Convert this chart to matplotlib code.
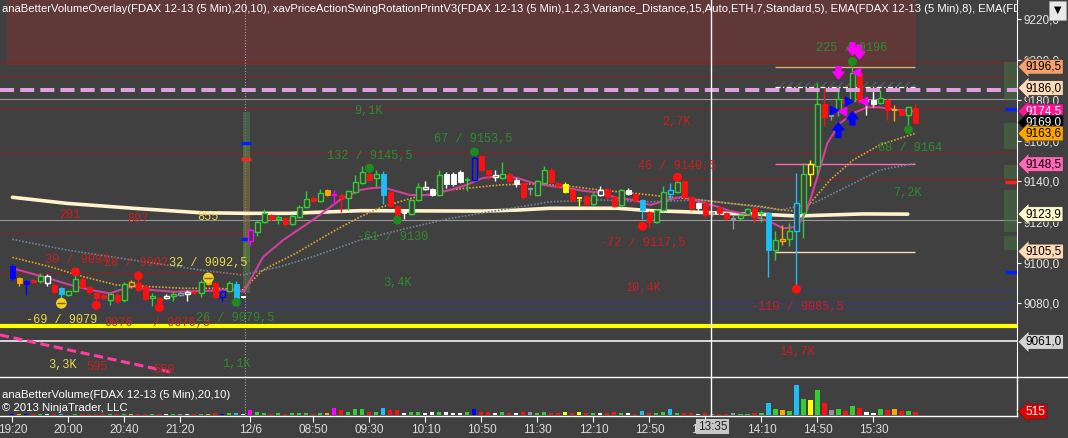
import matplotlib
matplotlib.use('Agg')
import matplotlib.pyplot as plt
import matplotlib.transforms as mtransforms
from matplotlib.patches import Rectangle
from matplotlib.lines import Line2D

# FDAX 12-13, 5 min bars (bar index 0 = 19:20 on 12/5)
opens = [9098.5, 9092.5, 9091, 9091.5, 9091, 9090, 9089, 9087.5, 9084, 9086,
         9092, 9088, 9085, 9084, 9081.5, 9084, 9081.5, 9088.5, 9090, 9088.5,
         9082.5, 9082.5, 9082.5, 9083.5, 9084, 9084.5, 9085.5, 9085, 9090.5, 9090,
         9083, 9086, 9089.5, 9083, 9110.5, 9115, 9120, 9123.5, 9121.5, 9122,
         9119, 9122.5, 9127.5, 9132, 9130.5, 9136, 9133.5, 9133.5, 9132, 9135,
         9139, 9143.5, 9141.5, 9143.5, 9135, 9128, 9124.5, 9124, 9131, 9136.5,
         9136.5, 9133.5, 9143.5, 9143.5, 9144.5, 9140.5, 9140.5, 9152.5, 9145.5, 9142,
         9141.5, 9143.5, 9140.5, 9139, 9136.5, 9133.5, 9139, 9145.5, 9139, 9138.5,
         9136, 9132, 9133, 9129, 9133.5, 9136.5, 9132.5, 9128.5, 9136, 9134,
         9131, 9125, 9120, 9126, 9134, 9135, 9140, 9132.5, 9129.5, 9129.5,
         9124.5, 9127.5, 9124.5, 9121.5, 9122, 9124, 9127, 9124.5, 9124.5, 9106,
         9110.5, 9111.5, 9115.5, 9124.5, 9143.5, 9147.5, 9178, 9172, 9174.5, 9180.5,
         9179.5, 9193.5, 9179.5, 9180, 9178.5, 9180, 9175, 9175, 9172.5, 9176]
highs = [9099.5, 9093, 9091.5, 9092, 9095, 9094.5, 9090, 9088, 9086.5, 9094,
         9093, 9088.5, 9085.5, 9084.5, 9085, 9085, 9090.5, 9091.5, 9093, 9089,
         9085, 9083, 9084.5, 9085.5, 9086, 9086.5, 9086, 9091.5, 9091.5, 9090.5,
         9086.5, 9091, 9091, 9083.5, 9117, 9121, 9126.5, 9124, 9123.5, 9122.5,
         9124, 9128.5, 9135.5, 9133, 9136.5, 9136.5, 9136, 9134, 9136, 9143,
         9147.5, 9145.5, 9145.5, 9145, 9135.5, 9128.5, 9125.5, 9131.5, 9139, 9140,
         9137, 9145.5, 9144.5, 9144.5, 9145.5, 9142, 9153.5, 9153, 9145.5, 9145.5,
         9149.5, 9144.5, 9141.5, 9139.5, 9137.5, 9140.5, 9147.5, 9146.5, 9139.5, 9139.5,
         9136.5, 9132.5, 9133.5, 9135, 9138, 9137, 9133, 9136.5, 9137, 9134.5,
         9131.5, 9125.5, 9126.5, 9138, 9139, 9140.5, 9140.5, 9133, 9130, 9130,
         9125.5, 9128, 9125, 9123.5, 9124.5, 9127, 9127.5, 9126, 9125, 9115.5,
         9118.5, 9119.5, 9144, 9149, 9150.5, 9188.5, 9186, 9177, 9186.5, 9181,
         9196.5, 9195, 9181.5, 9185, 9185, 9181, 9177.5, 9175.5, 9177, 9178]
lows = [9091.5, 9088.5, 9084, 9090, 9090, 9088.5, 9085, 9082.5, 9083.5, 9085.5,
        9087.5, 9084.5, 9081.5, 9082, 9079, 9080, 9080.5, 9087.5, 9086, 9081.5,
        9078.5, 9078.5, 9082, 9081, 9083.5, 9081, 9084.5, 9083, 9089, 9082.5,
        9081, 9085.5, 9081, 9082.5, 9108, 9113, 9119.5, 9120.5, 9119, 9118,
        9118.5, 9122, 9127, 9130, 9130, 9133, 9129, 9125, 9126, 9134.5,
        9138.5, 9140, 9137.5, 9129, 9127.5, 9122.5, 9121.5, 9123.5, 9130.5, 9136,
        9133, 9133, 9137, 9138, 9139, 9135.5, 9140, 9145, 9140.5, 9140,
        9141, 9139.5, 9137.5, 9131.5, 9133.5, 9133, 9138.5, 9139, 9137, 9134.5,
        9130.5, 9128, 9128.5, 9128.5, 9133, 9132, 9127.5, 9127.5, 9133.5, 9130,
        9121.5, 9117.5, 9119.5, 9125.5, 9131, 9134.5, 9132, 9126, 9126, 9122.5,
        9123, 9123.5, 9121, 9116.5, 9121, 9123.5, 9119.5, 9120, 9093, 9101.5,
        9108.5, 9108, 9085.5, 9112, 9138, 9143, 9167.5, 9170.5, 9172, 9178,
        9179, 9178.5, 9172.5, 9176.5, 9178, 9170.5, 9170, 9172, 9168, 9169]
closes = [9092.5, 9090, 9089.5, 9090.5, 9093.5, 9093.5, 9085.5, 9084.5, 9086, 9092,
          9088, 9085.5, 9082.5, 9082.5, 9084.5, 9081, 9089.5, 9090.5, 9086.5, 9082,
          9083.5, 9080.5, 9083.5, 9084.5, 9085, 9085.5, 9085, 9090.5, 9089.5, 9083,
          9086, 9090, 9082.5, 9083, 9116, 9120, 9124.5, 9121.5, 9122.5, 9119,
          9123, 9127.5, 9131.5, 9130.5, 9134.5, 9133.5, 9133, 9132, 9135.5, 9139.5,
          9144.5, 9140.5, 9143.5, 9133.5, 9128, 9123.5, 9124, 9131, 9137.5, 9137.5,
          9133.5, 9143, 9138.5, 9138.5, 9139.5, 9141, 9151.5, 9145.5, 9143.5, 9143,
          9143.5, 9140, 9138.5, 9132.5, 9136.5, 9140, 9145.5, 9139.5, 9138, 9135,
          9131, 9132, 9129, 9133.5, 9136, 9132.5, 9128, 9136, 9134, 9131,
          9126, 9120, 9126, 9135, 9136, 9139.5, 9132.5, 9127, 9127, 9123.5,
          9124.5, 9124.5, 9122, 9121.5, 9123.5, 9126.5, 9122.5, 9124.5, 9106, 9111,
          9111.5, 9115.5, 9129.5, 9143.5, 9148.5, 9178, 9171.5, 9172, 9180.5, 9178.5,
          9193.5, 9179.5, 9179.5, 9178, 9181, 9175, 9175, 9172.5, 9176.5, 9169]
# anaBetterVolume colour class per bar
bar_cols = ("bobrgwrcgg" "rrrrgrgorr" "grwgkwrgor" "bgcwmggrgr" "gggrgomrgg"
            "grgcrrwggw" "wgwwwgbrrw" "grwrkggrry" "ryrgwrrgwr" "crggcgrrwr"
            "krrkggrgcg" "ogcgygrkgr" "grwwgrorgr")
volumes = [160, 120, 90, 80, 110, 90, 120, 150, 70, 130,
           140, 100, 150, 80, 110, 90, 150, 100, 130, 160,
           90, 140, 80, 100, 90, 110, 80, 180, 160, 230,
           200, 260, 330, 150, 750, 380, 300, 200, 230, 200,
           250, 280, 300, 200, 260, 300, 1050, 680, 450, 950,
           900, 520, 520, 980, 680, 680, 300, 520, 520, 300,
           380, 520, 380, 300, 230, 380, 900, 380, 450, 230,
           450, 230, 230, 520, 380, 230, 450, 300, 300, 450,
           300, 450, 300, 300, 230, 230, 450, 300, 230, 150,
           600, 230, 300, 380, 830, 300, 230, 300, 150, 300,
           150, 80, 80, 300, 150, 150, 230, 300, 1750, 900,
           750, 600, 4500, 2450, 2250, 3750, 1750, 750, 900, 650,
           1350, 1100, 450, 350, 900, 750, 900, 650, 650, 515]

# EMA(8) magenta, EMA(20) orange dotted, EMA(50) slate dotted, long EMA cream
ema8_x = [0, 4.4, 7.8, 11.1, 13.9, 17.2, 19.7, 22.9, 26.8, 31.5, 33.1, 35.8, 38.7, 42.9, 46.8,
          49.7, 51.1, 52.9, 56.8, 59.7, 62.5, 64.9, 67.2, 69.7, 72.1, 74.4, 76.8, 79.2, 81.5,
          83.9, 86.4, 88.7, 91.1, 93.5, 95.8, 98.2, 100.7, 102.5, 105.4, 108.2, 110.1, 112.1,
          113.5, 115.0, 116.4, 118.2, 120.1, 122.1, 123.9, 126.4, 128.9]
ema8_y = [9097.2, 9093.1, 9089.5, 9086.6, 9084.9, 9088.5, 9086.6, 9085.7, 9086.0, 9086.6, 9085.7,
          9102.8, 9111.2, 9121.0, 9130.9, 9135.8, 9136.6, 9137.1, 9133.3, 9133.3, 9135.8, 9138.3,
          9141.7, 9142.7, 9141.7, 9139.2, 9137.8, 9136.8, 9135.4, 9134.5, 9131.9, 9130.9, 9128.4,
          9130.9, 9132.5, 9130.0, 9127.6, 9125.4, 9123.5, 9120.2, 9116.9, 9117.7, 9126.0, 9142.4,
          9158.8, 9168.6, 9173.6, 9176.5, 9176.5, 9175.2, 9174.5]
ema20_x = [0, 5.4, 10.1, 14.9, 19.7, 24.4, 29.2, 32.9, 35.8, 40.6, 45.4, 49.7, 52.9, 57.8, 62.5,
           69.7, 74.4, 79.2, 83.9, 88.7, 93.5, 98.2, 102.5, 107.2, 109.7, 112.9, 116.8, 120.1,
           123.9, 128.9]
ema20_y = [9102.6, 9098.0, 9093.1, 9089.0, 9088.2, 9087.4, 9087.4, 9086.6, 9096.4, 9104.8, 9114.6,
           9122.6, 9127.6, 9132.5, 9135.8, 9138.3, 9138.8, 9137.8, 9135.8, 9134.2, 9132.5, 9130.9,
           9129.2, 9127.6, 9126.0, 9125.1, 9140.7, 9150.6, 9158.0, 9163.6]
ema50_x = [0, 7.8, 17.2, 26.8, 32.9, 34.0, 38.2, 42.9, 49.7, 55.4, 62.5, 69.7, 76.8, 83.9, 91.1,
           98.2, 102.5, 109.7, 114.4, 119.2, 123.9, 128.9]
ema50_y = [9111.5, 9106.2, 9101.3, 9096.4, 9093.9, 9094.8, 9098.0, 9102.9, 9111.2, 9116.1, 9121.8,
           9125.9, 9130.0, 9130.9, 9130.0, 9130.9, 9129.2, 9126.0, 9129.2, 9137.4, 9145.6, 9148.9]
emaL_x = [0, 7.8, 17.2, 26.8, 33.5, 39.7, 49.7, 67.2, 72.1, 76.8, 86.4, 91.1, 95.8, 102.5, 107.2,
          112.1, 116.8, 121.5, 127.9]
emaL_y = [9132.2, 9129.2, 9126.8, 9124.6, 9124.3, 9124.3, 9125.6, 9125.4, 9125.9, 9126.8, 9126.8,
          9125.6, 9125.1, 9124.2, 9123.8, 9123.0, 9123.5, 9124.0, 9123.9]

# swing points and their print labels
swing_bar = [9, 12, 18, 21, 32, 51, 55, 66, 90, 95, 112, 120, 128]
swing_px = [9095.5, 9079, 9093.5, 9078, 9080.5, 9146.5, 9121, 9154.5, 9118, 9142, 9087, 9199, 9165.5]
swing_col = ['r', 'r', 'r', 'r', 'g', 'g', 'g', 'g', 'r', 'r', 'r', 'g', 'g']
marker_bar = [7, 28]
marker_px = [9080, 9092.5]
labels = [
    ("281", 8.2, 9123.5, 'r'), ("897", 17.9, 9121.5, 'r'), ("855", 27.9, 9122.5, 'y'),
    ("30 / 9094", 9.2, 9101.3, 'r'), ("28 / 9092", 17.7, 9099.8, 'r'),
    ("32 / 9092,5", 28.0, 9100.0, 'y'),
    ("9076", 15.1, 9070.5, 'r'), ("/ 9076,5", 24.2, 9070.3, 'r'),
    ("-69 / 9079", 7.1, 9071.8, 'y'), ("26 / 9079,5", 31.8, 9072.6, 'g'),
    ("3,3K", 7.1, 9049.6, 'y'), ("595", 12.1, 9048.6, 'r'), ("560", 21.6, 9047.2, 'r'),
    ("1,1K", 32.0, 9050.1, 'g'),
    ("9,1K", 50.8, 9174.5, 'g'), ("132 / 9145,5", 51.1, 9152.5, 'g'),
    ("67 / 9153,5", 65.8, 9160.8, 'g'), ("-61 / 9130", 54.3, 9112.8, 'g'), ("3,4K", 55.0, 9090.0, 'g'),
    ("2,7K", 94.9, 9169.4, 'r'), ("46 / 9140,5", 94.9, 9147.6, 'r'),
    ("-72 / 9117,5", 90.0, 9109.8, 'r'), ("10,4K", 90.0, 9087.5, 'r'),
    ("-110 / 9085,5", 112.1, 9078.3, 'r'), ("14,7K", 112.1, 9056.0, 'r'),
    ("225 / 9196", 119.9, 9205.6, 'g'), ("68 / 9164", 128.2, 9156.5, 'g'), ("7,2K", 127.9, 9134.2, 'g'),
]

# horizontal levels
red_levels = [9199, 9191.5, 9176, 9154]
red_levels_left = [9114.8, 9095.1]
navy_levels = [9080.3, 9077.6]
gray_levels = [9180.6, 9121.0]
rot_levels = [9196.5, 9148.5, 9105.5]
rot_cols = ['#f4a460', '#ff69b4', '#ffdab9']
flags = [(9196.5, '#f4a070', 'black'), (9186.0, '#fdd9b5', 'black'), (9174.5, '#ff1493', 'white'),
         (9169.0, '#000000', 'white'), (9163.6, '#ffa500', 'black'), (9148.5, '#ff69b4', 'black'),
         (9123.9, '#fffacd', 'black'), (9105.5, '#ffdab9', 'black'), (9061.0, '#d3d3d3', 'black')]

tick_idx = [0, 8, 16, 24, 34, 43, 51, 59, 67, 75, 83, 91, 99, 107, 115, 123]
tick_lbl = ['19:20', '20:00', '20:40', '21:20', '12/6', '08:50', '09:30', '10:10', '10:50',
            '11:30', '12:10', '12:50', '13:30', '14:10', '14:50', '15:30']

COL = {'r': '#ff1010', 'g': '#32cd32', 'w': '#ffffff', 'c': '#1ebef5', 'y': '#ffff00',
       'm': '#ff00ff', 'b': '#0000ff', 'o': '#ffa500', 'k': '#8a96a3'}
TXT = {'r': '#c82020', 'g': '#2e8b2e', 'y': '#e8d850'}
BG = '#404040'
W, H = 1068, 438

fig = plt.figure(figsize=(W / 100, H / 100), dpi=100, facecolor=BG)
ax = fig.add_axes([0, 61 / H, 1017 / W, 377 / H], facecolor=BG)
vax = fig.add_axes([0, 22 / H, 1017 / W, 39 / H], facecolor=BG)
ax.set_xlim(-1.77, 143.5)
vax.set_xlim(-1.77, 143.5)
ax.set_ylim(9043.7, 9229.35)
vax.set_ylim(-150, 5700)

# supply zone
ax.add_patch(Rectangle((-0.8, 9197.4), 129.9, 40, fc='#613838', ec='none', zorder=0))

for lv in red_levels:
    ax.axhline(lv, color='#7a2828', lw=0.9, zorder=1)
ax.hlines([9141.2], 89, 143.5, color='#7a2828', lw=0.9, zorder=1)
ax.hlines(red_levels_left, -1.77, 33.5, color='#7a2828', lw=0.9, zorder=1)
ax.hlines([9086.6], 112, 143.5, color='#3a3a78', lw=0.9, zorder=1)
for lv in navy_levels:
    ax.axhline(lv, color='#3a3a78', lw=0.9, zorder=1)
for lv in gray_levels:
    ax.axhline(lv, color='#9a9a9a', lw=0.8, zorder=1)
ax.axhline(9068.9, color='#ffff00', lw=3, zorder=2)
ax.axhline(9061.2, color='#ffffff', lw=1.1, zorder=2)
ax.axhline(9185.0, color='#dda0dd', lw=2.9, dashes=(3.5, 1.5), zorder=6)
ax.plot([-1.77, 23.2], [9064.4, 9045.7], color='#ff3ca0', lw=2.2, dashes=(3, 1.5), zorder=2)

# swing rotation levels on the last leg
for lv, c in zip(rot_levels, rot_cols):
    ax.hlines(lv, 108.9, 128.9, color=c, lw=1.0, zorder=3)
plt.rcParams['hatch.color'] = '#5a5a5a'
ax.add_patch(Rectangle((108.9, 9186.4), 20, 2.6, fc='none', ec='#5a5a5a', hatch='////', lw=0, zorder=2))
ax.hlines(9186.4, 108.9, 128.9, color='white', lw=0.9, linestyles=(0, (4, 2, 1, 2)), zorder=3)

# volume overlay columns
for lo, hi, c in [(9085, 9100, '#4f6f45'), (9100, 9112, '#5f8a3f'), (9112, 9148, '#7a7040'),
                  (9148, 9160, '#5f8040'), (9160, 9174, '#4f6f4f')]:
    ax.add_patch(Rectangle((32.9, lo), 1.1, hi - lo, fc=c, ec='none', alpha=0.65, zorder=2))
ax.hlines([9159, 9111.6], 32.7, 34.1, color='#0020ff', lw=2.5, zorder=3)
ax.hlines([9151], 32.7, 34.1, color='#ff2020', lw=2.5, zorder=3)
for lo, hi in [(9180, 9199), (9156, 9169), (9141, 9148), (9115, 9136), (9106, 9113)]:
    ax.add_patch(Rectangle((141.7, lo), 1.9, hi - lo, fc='#4a7a40', ec='none', alpha=0.45, zorder=2))
ax.hlines([9175.5, 9095.5], 141.8, 143.5, color='#0020ff', lw=2.5, zorder=3)
ax.hlines([9139.5], 141.8, 143.5, color='#ff2020', lw=2.5, zorder=3)

# session break and cursor
for a in (ax, vax):
    a.axvline(33.2, color='#a0a0a0', lw=0.8, ls=(0, (1, 1.5)), zorder=1)
    a.axvline(99.8, color='white', lw=1.0, zorder=7)

# moving averages
ax.plot(emaL_x, emaL_y, color='#fff2cc', lw=2.6, zorder=3, solid_capstyle='round')
ax.plot(ema50_x, ema50_y, color='#6f829a', lw=1.2, ls=(0, (1, 1)), zorder=3)
ax.plot(ema20_x, ema20_y, color='#e0a030', lw=1.2, ls=(0, (1, 1)), zorder=3)
ax.plot(ema8_x, ema8_y, color='#d0409a', lw=1.5, zorder=3)

# candles
bw = 0.7
for i in range(len(opens)):
    o, h, l, c = opens[i], highs[i], lows[i], closes[i]
    col = COL[bar_cols[i]]
    ax.vlines(i, l, h, color=col, lw=1.0, zorder=4)
    if abs(c - o) < 0.6:
        ax.hlines((o + c) / 2, i - bw / 2, i + bw / 2, color=col, lw=1.4, zorder=5)
    elif c > o:
        ax.add_patch(Rectangle((i - bw / 2, o), bw, c - o, fc=BG, ec=col, lw=1.0, zorder=5))
    else:
        ax.add_patch(Rectangle((i - bw / 2, c), bw, o - c, fc=col, ec=col, lw=0.6, zorder=5))

# swing dots, markers and arrows
ax.scatter(swing_bar, swing_px, s=42, c=[COL[s] if s == 'r' else '#1f8a1f' for s in swing_col],
           edgecolors='none', zorder=6)
ax.scatter(marker_bar, marker_px, s=60, c='#f0d020', edgecolors='none', zorder=6)
ax.scatter(marker_bar, marker_px, s=30, marker='_', c='#806000', linewidths=1, zorder=7)
for x, tip, tail, c in [(118, 9190.5, 9196.5, '#ff00ff'), (120, 9202.3, 9208.3, '#ff00ff'),
                        (121, 9200.4, 9207.2, '#ff00ff'), (118, 9168.8, 9161.7, '#0000ff'),
                        (120, 9174.3, 9167.8, '#0000ff')]:
    ax.annotate('', xy=(x, tip), xytext=(x, tail),
                arrowprops=dict(facecolor=c, edgecolor=c, width=3.5, headwidth=8, headlength=5,
                                shrink=0),
                zorder=7)
ax.scatter([117.4, 119.5], [9175.2, 9179.8], marker='>', s=35, c='#0000ff', zorder=7)
ax.scatter([118.5, 120.5, 121.5], [9174.7, 9194.0, 9179.8], marker='<', s=35, c='#ff00ff', zorder=7)

for t, x, y, c in labels:
    ax.text(x, y, t, color=TXT[c], fontsize=8.6, family='Liberation Mono', ha='center', va='center',
            zorder=8)

# volume bars
vax.bar(range(len(volumes)), volumes, width=0.58, color=[COL[b] for b in bar_cols], zorder=3)

# axes styling
yt = [9220, 9200, 9180, 9160, 9140, 9120, 9100, 9080]
ax.set_yticks(yt)
ax.set_yticklabels([f"{v:.1f}".replace('.', ',') for v in yt], family='Liberation Sans')
ax.tick_params(axis='y', left=False, labelleft=False, right=True, labelright=True, colors='white',
               labelcolor='#e6e6e6', length=3, width=0.8, pad=2, labelsize=8.5)
ax.tick_params(axis='x', bottom=False, labelbottom=False)
for s in ax.spines.values():
    s.set_visible(False)
ax.spines['right'].set_visible(True)
ax.spines['right'].set_color('white')

vax.set_yticks([])
vax.set_xticks(tick_idx)
vax.set_xticklabels(tick_lbl, family='Liberation Sans')
vax.tick_params(axis='x', colors='white', labelcolor='#dcdcdc', length=4, width=0.8, pad=1.5,
                labelsize=8.5)
vax.spines['left'].set_visible(False)
for k in ('top', 'bottom', 'right'):
    vax.spines[k].set_color('white')
    vax.spines[k].set_linewidth(1.0)
fig.add_artist(Line2D([1017 / W, 1], [61 / H, 61 / H], color='white', lw=1.0))

vtr = mtransforms.blended_transform_factory(vax.transData, vax.transAxes)
vax.text(100, -0.27, '13:35', transform=vtr, ha='center', va='center', fontsize=8.5,
         family='Liberation Sans', color='#202020', clip_on=False,
         bbox=dict(boxstyle='square,pad=0.15', fc='#c8c8c8', ec='none'), zorder=10)

# header and panel captions
header = ("anaBetterVolumeOverlay(FDAX 12-13 (5 Min),20,10), xavPriceActionSwingRotationPrintV3"
          "(FDAX 12-13 (5 Min),1,2,3,Variance_Distance,15,Auto,ETH,7,Standard,5), "
          "EMA(FDAX 12-13 (5 Min),8), EMA(FDAX 12-13 (5 Min),20)")
ax.text(0.002, 1 - 9 / 377, header, transform=ax.transAxes, ha='left', va='center', fontsize=8.1,
        family='Liberation Sans', color='white', clip_on=True, zorder=9)
vax.text(0.002, 1 - 18 / 39, 'anaBetterVolume(FDAX 12-13 (5 Min),20,10)', transform=vax.transAxes,
         ha='left', va='center', fontsize=8.2, family='Liberation Sans', color='white')
vax.text(0.002, 1 - 31 / 39, '\u00a9 2013 NinjaTrader, LLC', transform=vax.transAxes,
         ha='left', va='center', fontsize=8.2, family='Liberation Sans', color='white')

# price flags on the right scale
ftr = mtransforms.blended_transform_factory(ax.transAxes, ax.transData)
for v, fc, tc in flags:
    ax.text(1.0085, v, f"{v:.1f}".replace('.', ','), transform=ftr, ha='left', va='center',
            fontsize=8.5, family='Liberation Sans', color=tc, clip_on=False, zorder=20,
            bbox=dict(boxstyle='larrow,pad=0.12', fc=fc, ec='#303030', lw=0.5))
vtr2 = mtransforms.blended_transform_factory(vax.transAxes, vax.transData)
vax.text(1.0085, 515, '515', transform=vtr2, ha='left', va='center', fontsize=8.5,
         family='Liberation Sans', color='white', clip_on=False, zorder=20,
         bbox=dict(boxstyle='larrow,pad=0.12', fc='#e00000', ec='#303030', lw=0.5))

# drop-down button in the corner
fig.add_artist(Rectangle((1049 / W, 1 - 20 / H), 17 / W, 19 / H, transform=fig.transFigure,
                         fc='#e8e8e8', ec='#a0a0a0', lw=0.6))
fig.text(1057.5 / W, 1 - 10 / H, '\u25bc', ha='center', va='center', fontsize=7, color='black')

fig.savefig('out.png', dpi=100, facecolor=BG)
